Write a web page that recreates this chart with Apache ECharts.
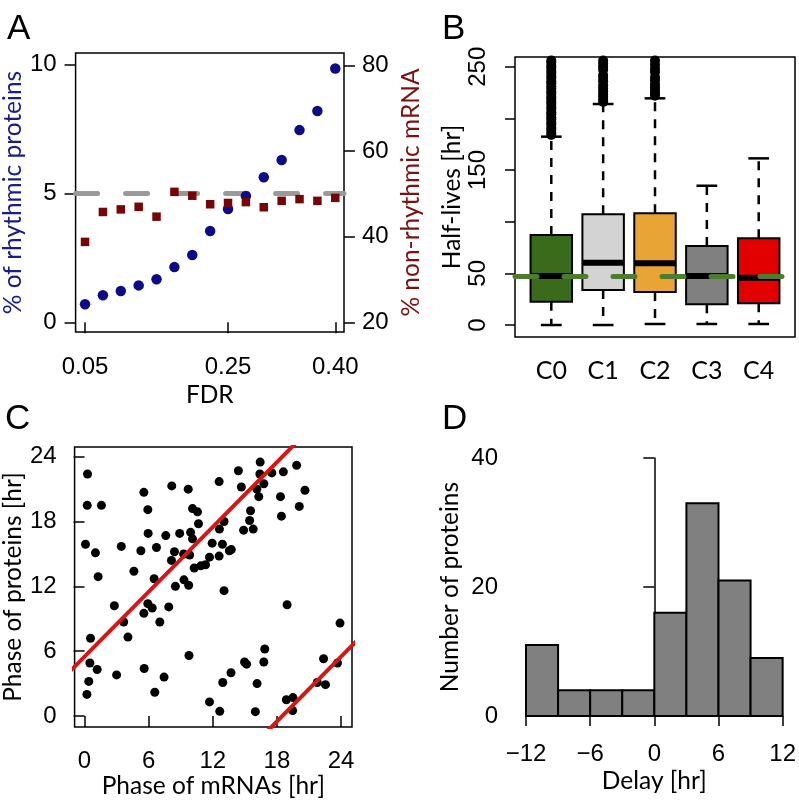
<!DOCTYPE html>
<html>
<head>
<meta charset="utf-8">
<script src="https://cdn.jsdelivr.net/npm/echarts@6/dist/echarts.min.js"></script>
<style>
  html, body { margin: 0; padding: 0; background: #fff; }
  #chart { width: 799px; height: 802px; }
</style>
</head>
<body>
<div id="chart"></div>
<script>
// A: rhythmic proteins vs FDR
const fdr = [0.05, 0.075, 0.1, 0.125, 0.15, 0.175, 0.2, 0.225, 0.25, 0.275, 0.3, 0.325, 0.35, 0.375, 0.4]
const rhythmicProteins = [0.70, 1.05, 1.21, 1.43, 1.67, 2.14, 2.61, 3.54, 4.39, 4.90, 5.62, 6.29, 7.45, 8.19, 9.84]
const nonRhythmicMrna = [38.8, 45.8, 46.4, 47.0, 44.7, 50.5, 49.6, 47.6, 47.9, 48.1, 46.9, 48.4, 48.8, 48.4, 49.1]
const fdrTicks = [0.05, 0.25, 0.40]
const proteinTicks = [0, 5, 10]
const mrnaTicks = [20, 40, 60, 80]
const proteinRef = 5

// B: half-lives per cluster  [min, q1, median, q3, max]
const clusters = ['C0', 'C1', 'C2', 'C3', 'C4']
const halfLifeStats = [
  [0, 22.6, 47.4, 87.1, 182.3],
  [0, 33.9, 60.3, 107.2, 213.9],
  [1, 31.9, 59.7, 108.1, 219.4],
  [1, 20.0, 47.4, 76.5, 134.8],
  [1, 21.0, 45.8, 83.9, 161.3]
]
const halfLifeOutliers = [
  [184, 186, 189, 191, 194, 196, 199, 201, 204, 206, 209, 211, 214, 216, 219, 221, 224, 226, 229, 231, 234, 236, 239, 241, 244, 246, 249, 251, 254, 256],
  [216, 218, 221, 223, 226, 229, 232, 236, 239, 242, 247, 250, 253, 256],
  [222, 224, 227, 230, 233, 237, 240, 245, 248, 252, 256],
  [],
  []
]
const halfLifeTicks = [0, 50, 100, 150, 200, 250]
const halfLifeLabels = [0, 50, 150, 250]
const medianHalfLife = 47.4

// C: phase of mRNAs vs phase of proteins
const mrnaPhase = [0.28, 0.25, 1.58, 0.09, 1.02, 1.27, 2.79, 3.44, 3.66, 4.06, 4.62, 5.27, 5.55, 5.55, 5.92, 5.95, 5.92, 6.33, 6.51, 6.73,
  7.04, 7.60, 7.88, 8.16, 8.13, 8.41, 8.50, 8.90, 9.30, 9.27, 9.70, 9.74, 9.83, 9.92, 10.1, 10.1, 10.26, 10.57, 10.66, 10.88,
  11.32, 11.69, 11.94, 12.59, 12.62, 12.59, 12.9, 13.05, 13.05, 13.55, 13.73, 14.39, 14.67, 14.88, 15.44, 15.53, 15.78, 16.12, 16.3, 16.43,
  16.4, 16.77, 17.52, 18.33, 18.42, 18.6, 19.84, 20.09, 20.62, 18.95, 23.9,
  0.5, 0.4, 0.22, 0.56, 1.18, 3.0, 5.58, 6.57, 7.44, 9.77, 11.69, 12.65, 12.93, 13.7, 14.97, 15.16, 15.98, 16.14, 16.77,
  16.86, 18.88, 19.5, 19.47, 21.77, 22.54, 22.36, 23.66]
const proteinPhase = [22.4, 19.5, 19.5, 15.9, 15.1, 12.9, 10.2, 15.7, 8.7, 7.3, 13.4, 15.3, 20.7, 9.5, 19.1, 16.9, 10.4, 10.0, 12.7, 15.6,
  8.7, 16.7, 10.1, 21.3, 14.4, 15.2, 12.0, 16.9, 12.6, 15.0, 21.0, 12.1, 14.9, 17.0, 19.2, 16.4, 13.7, 18.9, 17.8, 13.9,
  14.0, 14.7, 16.0, 21.7, 17.3, 14.8, 15.9, 18.0, 11.6, 15.3, 15.4, 22.7, 21.2, 17.2, 18.1, 19.0, 17.3, 21.0, 20.3, 23.5,
  22.4, 21.5, 22.5, 20.3, 18.5, 22.6, 23.2, 19.4, 20.9, 10.3, 8.6,
  4.9, 3.2, 2.0, 7.2, 4.3, 3.8, 4.4, 2.2, 3.6, 5.6, 1.3, 0.43, 3.1, 4.0, 5.0, 4.8, 0.4, 3.0, 5.0,
  6.2, 1.5, 1.7, 0.5, 3.1, 2.9, 5.3, 4.9]
const phaseTicks = [0, 6, 12, 18, 24]
// fitted delay line (slope 1), and its wrapped copy 24 h lower
const fitLineMain = [[-2, 3.5], [20, 25.5]]
const fitLineWrap = [[16, -2.5], [26, 7.5]]

// D: delay histogram
const delayBins = [-12, -9, -6, -3, 0, 3, 6, 9]
const binWidth = 3
const proteinCounts = [11, 4, 4, 4, 16, 33, 21, 9]
const delayTicks = [-12, -6, 0, 6, 12]
const countTicks = [0, 20, 40]

const numFont = 'Liberation Sans'
const txtFont = 'Lato'
const clusterColors = ['#3a6b1a', '#d3d3d3', '#e8a535', '#808080', '#e30000']

const chart = echarts.init(document.getElementById('chart'))

const tickStyle = (vals, len) => ({ show: true, customValues: vals, length: len, lineStyle: { color: '#000', width: 1.5 } })
const labelStyle = (vals, margin, extra) => Object.assign({
  customValues: vals, margin: margin, color: '#000', fontFamily: numFont, fontSize: 24
}, extra || {})
const nameStyle = (color) => ({ fontFamily: txtFont, fontSize: 24.5, color: color || '#000' })
const boxGrid = { show: true, borderColor: '#000', borderWidth: 1.5, backgroundColor: 'transparent' }

function renderBox(params, api) {
  const x = api.value(0)
  const w = api.size([0.8, 0])[0]
  const pt = (v) => api.coord([x, v])
  const cx = pt(api.value(1))[0]
  const yLo = pt(api.value(1))[1]
  const yQ1 = pt(api.value(2))[1]
  const yMed = pt(api.value(3))[1]
  const yQ3 = pt(api.value(4))[1]
  const yHi = pt(api.value(5))[1]
  const dash = { stroke: '#000', lineWidth: 2.5, lineDash: [9, 8] }
  const solid = { stroke: '#000', lineWidth: 2.5 }
  return {
    type: 'group',
    children: [
      { type: 'line', shape: { x1: cx, y1: yQ3, x2: cx, y2: yHi }, style: dash },
      { type: 'line', shape: { x1: cx, y1: yQ1, x2: cx, y2: yLo }, style: dash },
      { type: 'line', shape: { x1: cx - w / 4, y1: yHi, x2: cx + w / 4, y2: yHi }, style: solid },
      { type: 'line', shape: { x1: cx - w / 4, y1: yLo, x2: cx + w / 4, y2: yLo }, style: solid },
      { type: 'rect', shape: { x: cx - w / 2, y: yQ3, width: w, height: yQ1 - yQ3 },
        style: { fill: clusterColors[params.dataIndex], stroke: '#000', lineWidth: 2 } },
      { type: 'line', shape: { x1: cx - w / 2, y1: yMed, x2: cx + w / 2, y2: yMed }, style: { stroke: '#000', lineWidth: 6 } }
    ]
  }
}

function renderBin(params, api) {
  const start = api.value(0)
  const p0 = api.coord([start, api.value(1)])
  const p1 = api.coord([start + binWidth, 0])
  return {
    type: 'rect',
    shape: { x: p0[0], y: p0[1], width: p1[0] - p0[0], height: p1[1] - p0[1] },
    style: { fill: '#808080', stroke: '#000', lineWidth: 2 }
  }
}

const letter = (t, left, top) => ({ text: t, left: left, top: top, textStyle: { fontFamily: numFont, fontSize: 35, fontWeight: 'normal', color: '#000' } })

chart.setOption({
  animation: false,
  title: [letter('A', 2, 7), letter('B', 437, 7), letter('C', 0, 397), letter('D', 437, 397)],
  grid: [
    Object.assign({ left: 68, top: 53, width: 276, height: 279 }, boxGrid),
    Object.assign({ left: 515, top: 57, width: 280, height: 280 }, boxGrid),
    Object.assign({ left: 73, top: 447, width: 279, height: 280 }, boxGrid),
    { left: 526, top: 458, width: 259, height: 258 }
  ],
  xAxis: [
    {
      gridIndex: 0, type: 'value', min: 0.0368, max: 0.4122,
      axisLine: { show: false }, splitLine: { show: false },
      axisTick: tickStyle(fdrTicks, 11),
      axisLabel: labelStyle(fdrTicks, 23, { formatter: (v) => v.toFixed(2) }),
      name: 'FDR', nameLocation: 'middle', nameGap: 51, nameTextStyle: nameStyle()
    },
    {
      gridIndex: 1, type: 'value', min: 0.3, max: 5.7,
      axisLine: { show: false }, splitLine: { show: false }, axisTick: { show: false },
      axisLabel: labelStyle([1, 2, 3, 4, 5], 21, { fontFamily: txtFont, fontSize: 25, formatter: (v) => clusters[v - 1] })
    },
    {
      gridIndex: 2, type: 'value', min: -0.93, max: 25.02,
      axisLine: { show: false }, splitLine: { show: false },
      axisTick: tickStyle(phaseTicks, 11),
      axisLabel: labelStyle(phaseTicks, 22),
      name: 'Phase of mRNAs [hr]', nameLocation: 'middle', nameGap: 46, nameTextStyle: nameStyle()
    },
    {
      gridIndex: 3, type: 'value', min: -12, max: 12, offset: 10.7,
      axisLine: { show: true, lineStyle: { color: '#000', width: 1.5 } }, splitLine: { show: false },
      axisTick: tickStyle(delayTicks, 10),
      axisLabel: labelStyle(delayTicks, 16, { formatter: (v) => String(v).replace('-', '\u2212') }),
      name: 'Delay [hr]', nameLocation: 'middle', nameGap: 42, nameTextStyle: nameStyle()
    }
  ],
  yAxis: [
    {
      gridIndex: 0, type: 'value', min: -0.376, max: 10.438,
      axisLine: { show: false }, splitLine: { show: false },
      axisTick: tickStyle(proteinTicks, 11),
      axisLabel: labelStyle(proteinTicks, 19),
      name: '% of rhythmic proteins', nameLocation: 'middle', nameGap: 42, nameTextStyle: nameStyle('#1b1b8c')
    },
    {
      gridIndex: 0, type: 'value', position: 'right', min: 17.73, max: 82.97,
      axisLine: { show: false }, splitLine: { show: false },
      axisTick: tickStyle(mrnaTicks, 11),
      axisLabel: labelStyle(mrnaTicks, 18),
      name: '% non-rhythmic mRNA', nameLocation: 'middle', nameGap: 55, nameTextStyle: nameStyle('#7d1010')
    },
    {
      gridIndex: 1, type: 'value', min: -11.6, max: 259.4,
      axisLine: { show: false }, splitLine: { show: false },
      axisTick: tickStyle(halfLifeTicks, 10),
      axisLabel: labelStyle(halfLifeLabels, 25, { rotate: 90 }),
      name: 'Half-lives [hr]', nameLocation: 'middle', nameGap: 50, nameTextStyle: nameStyle()
    },
    {
      gridIndex: 2, type: 'value', min: -1.02, max: 24.9,
      axisLine: { show: false }, splitLine: { show: false },
      axisTick: tickStyle(phaseTicks, 11),
      axisLabel: labelStyle(phaseTicks, 18),
      name: 'Phase of proteins [hr]', nameLocation: 'middle', nameGap: 48, nameTextStyle: nameStyle()
    },
    {
      gridIndex: 3, type: 'value', min: 0, max: 40, offset: 10,
      axisLine: { show: true, lineStyle: { color: '#000', width: 1.5 } }, splitLine: { show: false },
      axisTick: tickStyle(countTicks, 11),
      axisLabel: labelStyle(countTicks, 18),
      name: 'Number of proteins', nameLocation: 'middle', nameGap: 53, nameTextStyle: nameStyle()
    }
  ],
  series: [
    {
      type: 'scatter', xAxisIndex: 0, yAxisIndex: 0, z: 3,
      data: fdr.map((f, i) => [f, rhythmicProteins[i]]),
      symbol: 'circle', symbolSize: 10.5, itemStyle: { color: '#0c0c88', opacity: 1 },
      markLine: {
        z: 1, silent: true, symbol: ['none', 'none'], label: { show: false },
        lineStyle: { color: '#9a9a9a', width: 5, type: [22, 28], cap: 'round' },
        data: [{ yAxis: proteinRef }]
      }
    },
    {
      type: 'scatter', xAxisIndex: 0, yAxisIndex: 1, z: 3,
      data: fdr.map((f, i) => [f, nonRhythmicMrna[i]]),
      symbol: 'rect', symbolSize: 8.5, itemStyle: { color: '#760606', opacity: 1 }
    },
    {
      type: 'custom', xAxisIndex: 1, yAxisIndex: 2, z: 2,
      renderItem: renderBox,
      data: halfLifeStats.map((s, i) => [i + 1].concat(s))
    },
    {
      type: 'scatter', xAxisIndex: 1, yAxisIndex: 2, z: 3,
      data: halfLifeOutliers.flatMap((vals, i) => vals.map((v) => [i + 1, v])),
      symbol: 'circle', symbolSize: 10, itemStyle: { color: '#000', opacity: 1 },
      markLine: {
        z: 10, silent: true, symbol: ['none', 'none'], label: { show: false },
        lineStyle: { color: '#4c7d2c', width: 5, type: [22, 27], cap: 'round' },
        data: [{ yAxis: medianHalfLife }]
      }
    },
    {
      type: 'scatter', xAxisIndex: 2, yAxisIndex: 3, z: 3,
      data: mrnaPhase.map((m, i) => [m, proteinPhase[i]]),
      symbol: 'circle', symbolSize: 9, itemStyle: { color: '#000', opacity: 1 }
    },
    {
      type: 'line', xAxisIndex: 2, yAxisIndex: 3, z: 4, clip: true,
      data: fitLineMain, symbol: 'none', lineStyle: { color: '#d81414', width: 4 }
    },
    {
      type: 'line', xAxisIndex: 2, yAxisIndex: 3, z: 4, clip: true,
      data: fitLineWrap, symbol: 'none', lineStyle: { color: '#d81414', width: 4 }
    },
    {
      type: 'custom', xAxisIndex: 3, yAxisIndex: 4,
      renderItem: renderBin,
      data: delayBins.map((b, i) => [b, proteinCounts[i]])
    }
  ]
})
</script>
</body>
</html>
